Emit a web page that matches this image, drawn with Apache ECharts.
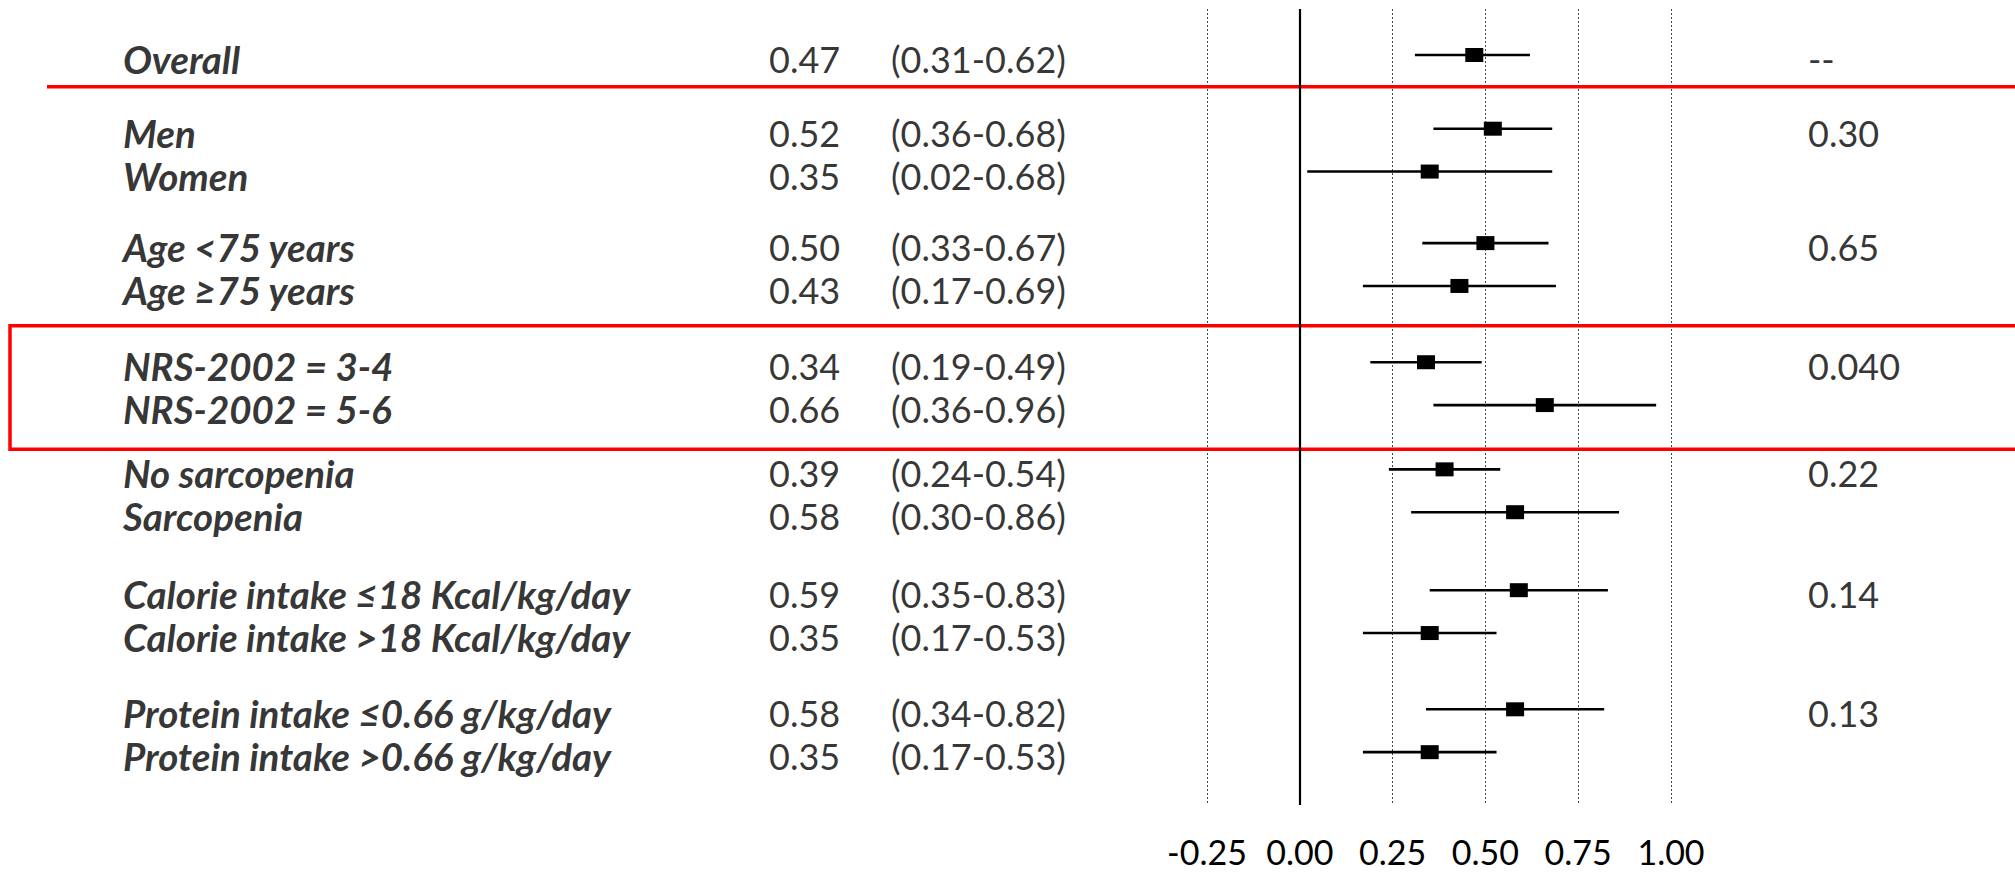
<!DOCTYPE html>
<html>
<head>
<meta charset="utf-8">
<script src="https://cdn.jsdelivr.net/npm/echarts@6/dist/echarts.min.js"></script>
<style>
  html, body { margin: 0; padding: 0; background: #ffffff; }
  #chart { width: 2015px; height: 872px; }
</style>
</head>
<body>
<div id="chart"></div>
<script>
// ---- data ----
const subgroups = [
  'Overall',
  'Men', 'Women',
  'Age <75 years', 'Age \u226575 years',
  'NRS-2002 = 3-4', 'NRS-2002 = 5-6',
  'No sarcopenia', 'Sarcopenia',
  'Calorie intake \u226418 Kcal/kg/day', 'Calorie intake >18 Kcal/kg/day',
  'Protein intake \u22640.66 g/kg/day', 'Protein intake >0.66 g/kg/day'
];
const estimates = [0.47, 0.52, 0.35, 0.50, 0.43, 0.34, 0.66, 0.39, 0.58, 0.59, 0.35, 0.58, 0.35];
const lower     = [0.31, 0.36, 0.02, 0.33, 0.17, 0.19, 0.36, 0.24, 0.30, 0.35, 0.17, 0.34, 0.17];
const upper     = [0.62, 0.68, 0.68, 0.67, 0.69, 0.49, 0.96, 0.54, 0.86, 0.83, 0.53, 0.82, 0.53];
const groupSizes = [1, 2, 2, 2, 2, 2, 2];
const pInteraction = ['--', '0.30', '0.65', '0.040', '0.22', '0.14', '0.13'];
const xTicks = [-0.25, 0, 0.25, 0.50, 0.75, 1.00];

// ---- layout ----
const W = 2015, H = 872;
const groupGaps = [1.72, 1.67, 1.78, 1.5, 1.82, 1.78];   // blank space between groups, in rows
const yRange = [-1.0735, 17.503];                          // row units shown by the plot
const plotTop = 9, plotHeight = 796;
const columns = { label: 123, estimate: 769, ci: 891, p: 1808 };
const FONT = 'Lato';

// row positions (in row units) built from the group structure
const rowPos = [];
const groupFirstRow = [];
let cursor = 0;
groupSizes.forEach((n, g) => {
  if (g > 0) cursor += groupGaps[g - 1];
  groupFirstRow.push(cursor);
  for (let k = 0; k < n; k++) {
    rowPos.push(cursor);
    if (k < n - 1) cursor += 1;
  }
});

const fmt = v => v.toFixed(2);

function textSeries(name, x, rows, texts, style) {
  return {
    name, type: 'scatter', xAxisIndex: 1, yAxisIndex: 1,
    symbolSize: 0, silent: true, animation: false,
    data: rows.map((r, i) => ({ name: texts[i], value: [x, r] })),
    label: Object.assign({
      show: true, position: 'right', distance: 0, offset: [0, 4],
      formatter: '{b}', color: '#000', fontFamily: FONT, fontSize: 36
    }, style)
  };
}

const chart = echarts.init(document.getElementById('chart'), null, { renderer: 'svg', width: W, height: H });

chart.setOption({
  animation: false,
  backgroundColor: '#ffffff',
  grid: [
    { left: 1207, right: W - 1671, top: plotTop, height: plotHeight },
    { left: 0, right: 0, top: plotTop, height: plotHeight }
  ],
  xAxis: [
    {
      gridIndex: 0, type: 'value',
      min: xTicks[0], max: xTicks[xTicks.length - 1], interval: 0.25,
      axisLine: { show: false }, axisTick: { show: false },
      axisLabel: {
        show: true, margin: 30, color: '#000', fontFamily: FONT, fontSize: 34, lineHeight: 32,
        formatter: v => fmt(v), showMinLabel: true, showMaxLabel: true
      },
      splitLine: { show: true, lineStyle: { color: '#444', width: 1, type: [2, 2] } }
    },
    { gridIndex: 1, type: 'value', min: 0, max: W, show: false }
  ],
  yAxis: [
    { gridIndex: 0, type: 'value', inverse: true, min: yRange[0], max: yRange[1], show: false },
    { gridIndex: 1, type: 'value', inverse: true, min: yRange[0], max: yRange[1], show: false }
  ],
  graphic: [
    // separator under the overall estimate
    { type: 'line', shape: { x1: 47, y1: 86.7, x2: W + 10, y2: 86.7 }, style: { stroke: '#ff0000', lineWidth: 3.5 }, silent: true },
    // frame around the NRS-2002 rows
    { type: 'rect', shape: { x: 10, y: 325.7, width: W + 20, height: 123.6 }, style: { stroke: '#ff0000', lineWidth: 3.5, fill: 'none' }, silent: true }
  ],
  series: [
    {
      name: 'zero', type: 'scatter', xAxisIndex: 0, yAxisIndex: 0, data: [], silent: true,
      markLine: {
        silent: true, symbol: 'none', label: { show: false },
        lineStyle: { color: '#000', width: 2.2, type: 'solid' },
        data: [{ xAxis: 0 }]
      }
    },
    {
      name: 'estimates', type: 'custom', xAxisIndex: 0, yAxisIndex: 0, silent: true,
      data: estimates.map((e, i) => [lower[i], upper[i], e, rowPos[i]]),
      encode: { x: [0, 1, 2], y: 3 },
      renderItem(params, api) {
        const lo = api.coord([api.value(0), api.value(3)]);
        const hi = api.coord([api.value(1), api.value(3)]);
        const c = api.coord([api.value(2), api.value(3)]);
        return {
          type: 'group',
          children: [
            { type: 'line', shape: { x1: lo[0], y1: lo[1], x2: hi[0], y2: hi[1] }, style: { stroke: '#000', lineWidth: 2.6 } },
            { type: 'rect', shape: { x: c[0] - 9, y: c[1] - 7, width: 18, height: 14 }, style: { fill: '#000' } }
          ]
        };
      }
    },
    textSeries('labels', columns.label, rowPos, subgroups, { fontWeight: 'bold', fontStyle: 'italic', fontSize: 38.5 }),
    textSeries('est', columns.estimate, rowPos, estimates.map(fmt), {}),
    textSeries('ci', columns.ci, rowPos, lower.map((l, i) => '(' + fmt(l) + '-' + fmt(upper[i]) + ')'), {}),
    textSeries('p', columns.p, groupFirstRow, pInteraction, {})
  ]
});
</script>
</body>
</html>
